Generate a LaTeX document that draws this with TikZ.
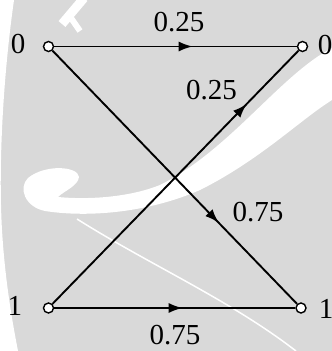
\documentclass[tikz,border=0pt]{standalone}
\usepackage{fontspec}
\setmainfont{Liberation Serif}
\usetikzlibrary{arrows.meta,decorations.markings}
\definecolor{MarkGray}{RGB}{217,217,217}
\tikzset{
  state/.style={circle,draw,fill=white,line width=1.4pt,inner sep=0pt,minimum size=10pt},
  bit/.style={font=\fontsize{29}{32}\selectfont,inner sep=0pt},
  prob/.style={font=\fontsize{29}{32}\selectfont,inner sep=0pt},
  chan/.style={line width=1.9pt},
  midarrow/.style={postaction={decorate},decoration={markings,
    mark=at position #1 with {\arrow{Latex[length=14pt,width=10pt]}}}},
  wmark/.style={draw=none,fill=white}
}

\begin{document}
\begin{tikzpicture}[x=1pt,y=-1pt]
  % watermark in the background
  \fill[MarkGray] (0,0) rectangle (332,351);
  \useasboundingbox (0,0) rectangle (332,351);
  \fill[wmark] (0,0) -- (14,0) .. controls (4,70) and (-2,160) .. (2,230)
    .. controls (5,280) and (12,320) .. (18,351) -- (0,351) -- cycle;
  \fill[wmark] (332,48) .. controls (280,75) and (230,150) .. (160,185)
    .. controls (130,197) and (90,200) .. (58,197)
    .. controls (64,191) and (78,186) .. (79,177)
    .. controls (78,166) and (45,164) .. (28,178)
    .. controls (18,188) and (25,207) .. (45,211)
    .. controls (90,218) and (150,212) .. (200,190)
    .. controls (260,160) and (300,120) .. (332,100) -- cycle;
  \draw[white,line width=1.5pt] (77,219) .. controls (150,265) and (230,300) .. (296,351);
  \draw[white,line width=9pt] (62,24) -- (84,-2);
  \draw[white,line width=6pt] (71,18) -- (80,31);

  % channel states
  \node[state] (s0) at (48.5,46.5) {};
  \node[state] (t0) at (302.5,46.5) {};
  \node[state] (s1) at (48.5,308) {};
  \node[state] (t1) at (301,308) {};
  \node[bit] (s0lbl) at (18,44) {0};
  \node[bit] (t0lbl) at (325,45) {0};
  \node[bit] (s1lbl) at (15,306) {1};
  \node[bit] (t1lbl) at (326,309) {1};

  % transitions
  \draw[chan,midarrow=0.571] (s0) -- (t0);
  \draw[chan,midarrow=0.68] (s0) -- (t1);
  \draw[chan,midarrow=0.789] (s1) -- (t0);
  \draw[chan,midarrow=0.533] (s1) -- (t1);
  \node[prob] (p00) at (179,22) {0.25};
  \node[prob] (p10) at (211.5,90) {0.25};
  \node[prob] (p01) at (258,212) {0.75};
  \node[prob] (p11) at (175,335) {0.75};
\end{tikzpicture}
\end{document}
